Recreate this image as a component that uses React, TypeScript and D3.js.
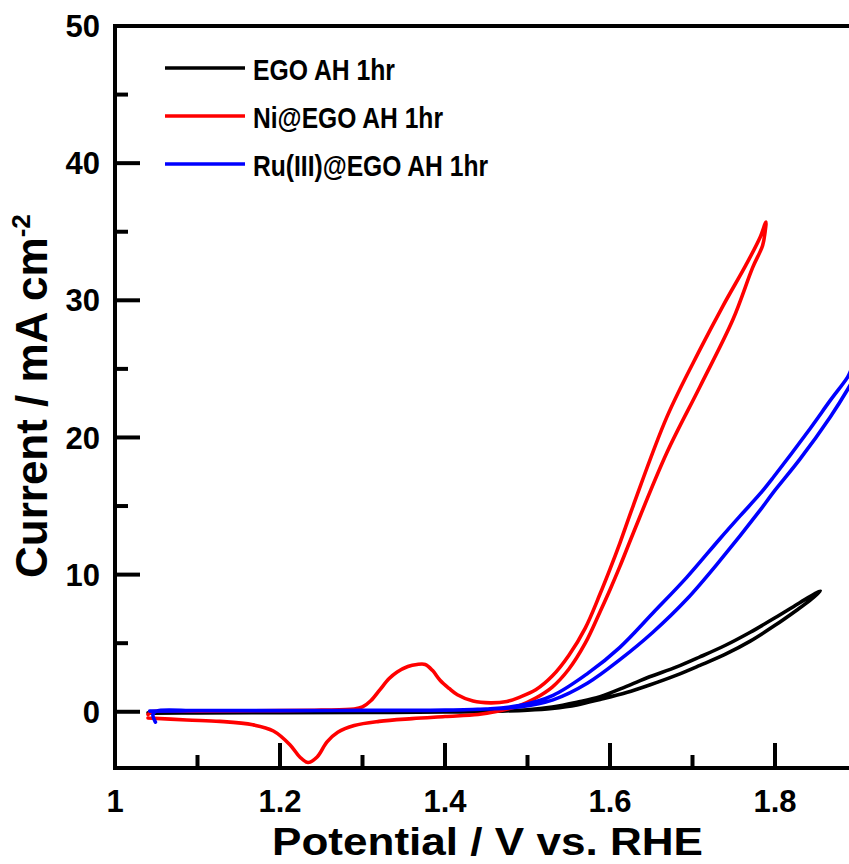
import React from "react";
import * as d3 from "d3";

// ---- Data (Potential V vs RHE, Current mA cm^-2), each a closed CV loop ----
const egoLoop: [number, number][] = [
  [1.04, -0.08], [1.1, -0.08], [1.2, -0.07], [1.3, -0.05], [1.4, -0.02], [1.45, 0.02],
  [1.5, 0.12], [1.53, 0.25], [1.56, 0.5], [1.588, 0.9], [1.62, 1.4], [1.648, 1.95],
  [1.68, 2.65], [1.709, 3.38], [1.74, 4.2], [1.77, 5.15], [1.8, 6.3], [1.825, 7.35],
  [1.842, 8.1], [1.855, 8.8],
  [1.848, 8.6], [1.83, 7.95], [1.8, 6.85], [1.77, 5.8], [1.74, 4.85], [1.709, 4.0],
  [1.68, 3.25], [1.648, 2.55], [1.62, 1.85], [1.588, 1.1], [1.56, 0.7], [1.53, 0.35],
  [1.5, 0.15], [1.45, 0.04], [1.4, -0.02], [1.3, -0.05], [1.2, -0.07], [1.1, -0.08], [1.045, -0.1],
];

const niLoop: [number, number][] = [
  [1.04, -0.2], [1.045, 0.0], [1.1, 0.05], [1.2, 0.08], [1.25, 0.12], [1.29, 0.2],
  [1.3, 0.35], [1.31, 0.8], [1.321, 1.6], [1.332, 2.4], [1.342, 2.9], [1.355, 3.3],
  [1.366, 3.45], [1.376, 3.45], [1.385, 3.0], [1.394, 2.3], [1.405, 1.7], [1.415, 1.24],
  [1.434, 0.78], [1.455, 0.65], [1.475, 0.75], [1.49, 1.05], [1.51, 1.6], [1.53, 2.6],
  [1.55, 4.1], [1.57, 6.1], [1.588, 8.6], [1.6, 10.4], [1.612, 12.3], [1.628, 15.0],
  [1.669, 21.5], [1.709, 26.4], [1.737, 29.6], [1.765, 32.6], [1.782, 34.6], [1.789, 35.7],
  [1.788, 35.0], [1.785, 34.0], [1.773, 32.4], [1.749, 28.6], [1.709, 23.7], [1.669, 18.9],
  [1.628, 13.0], [1.612, 10.6], [1.6, 8.9], [1.588, 7.3], [1.57, 5.0], [1.55, 3.1], [1.53, 1.8],
  [1.51, 1.0], [1.49, 0.45], [1.465, 0.05], [1.44, -0.2], [1.4, -0.35], [1.36, -0.5], [1.32, -0.7],
  [1.29, -1.0], [1.27, -1.5], [1.257, -2.2], [1.245, -3.3], [1.234, -3.7], [1.224, -3.3],
  [1.212, -2.4], [1.192, -1.4], [1.167, -0.95], [1.127, -0.7], [1.087, -0.6], [1.04, -0.45],
];

const ruLoop: [number, number][] = [
  [1.049, -0.75], [1.046, -0.2], [1.05, 0.05], [1.1, 0.08], [1.2, 0.08], [1.3, 0.1],
  [1.4, 0.12], [1.45, 0.2], [1.49, 0.35], [1.531, 0.87], [1.573, 2.1], [1.612, 3.8],
  [1.652, 5.8], [1.693, 8.2], [1.733, 11.0], [1.782, 14.7], [1.798, 16.0], [1.83, 18.4],
  [1.867, 21.5], [1.888, 23.5], [1.9, 24.8], [1.905, 25.6],
  [1.895, 25.2], [1.888, 24.4], [1.867, 22.7], [1.842, 20.6], [1.798, 17.1], [1.782, 15.9],
  [1.758, 14.3], [1.733, 12.6], [1.693, 9.8], [1.652, 7.2], [1.612, 4.7], [1.573, 2.8],
  [1.531, 1.2], [1.49, 0.45], [1.45, 0.2], [1.4, 0.12], [1.3, 0.1], [1.2, 0.08], [1.1, 0.07], [1.042, 0.05],
];

const seriesNames = ["EGO AH 1hr", "Ni@EGO AH 1hr", "Ru(III)@EGO AH 1hr"];
const seriesColors = ["#000000", "#ff0000", "#0000ff"];
const seriesData = [egoLoop, niLoop, ruLoop];

const xMajorTicks = [1, 1.2, 1.4, 1.6, 1.8];
const xMinorTicks = [1.1, 1.3, 1.5, 1.7];
const xTickLabels = ["1", "1.2", "1.4", "1.6", "1.8"];
const yMajorTicks = [0, 10, 20, 30, 40, 50];
const yMinorTicks = [5, 15, 25, 35, 45];
const yTickLabels = ["0", "10", "20", "30", "40", "50"];

const W = 849;
const H = 864;
const FONT = "'Liberation Sans', Arial, Helvetica, sans-serif";

export default function App() {
  const left = 115, right = 849, top = 26, bottom = 768;
  const x = d3.scaleLinear().domain([1, 1.8]).range([115, 775]);
  const y = d3.scaleLinear().domain([-4.1, 50]).range([bottom, top]);
  const line = d3
    .line<[number, number]>()
    .x((d) => x(d[0]))
    .y((d) => y(d[1]))
    .curve(d3.curveCatmullRom.alpha(0.5));

  const legendTextLen = [142, 190, 235];

  return (
    <svg
      width={W}
      height={H}
      style={{ position: "absolute", left: 0, top: 0, background: "#fff" }}
      fontFamily={FONT}
      fontWeight="bold"
    >
      <defs>
        <clipPath id="plotClip">
          <rect x={left} y={top} width={right - left} height={bottom - top} />
        </clipPath>
      </defs>
      <rect x={0} y={0} width={W} height={H} fill="#fff" />

      {/* curves */}
      <g clipPath="url(#plotClip)" fill="none" strokeWidth={3.6} strokeLinejoin="round" strokeLinecap="round">
        {seriesData.map((d, i) => (
          <path key={i} d={line(d) || ""} stroke={seriesColors[i]} />
        ))}
      </g>

      {/* axes */}
      <g stroke="#000" strokeWidth={4} fill="none">
        <line x1={left} y1={top} x2={left} y2={bottom + 2} />
        <line x1={left - 2} y1={bottom} x2={right} y2={bottom} />
        <line x1={left - 2} y1={top} x2={right} y2={top} />
        {yMajorTicks.map((t) => (
          <line key={"ym" + t} x1={left} x2={left + 25} y1={y(t)} y2={y(t)} />
        ))}
        {yMinorTicks.map((t) => (
          <line key={"yn" + t} x1={left} x2={left + 13} y1={y(t)} y2={y(t)} />
        ))}
        {xMajorTicks.map((t) => (
          <line key={"xm" + t} x1={x(t)} x2={x(t)} y1={bottom} y2={bottom - 25} />
        ))}
        {xMinorTicks.map((t) => (
          <line key={"xn" + t} x1={x(t)} x2={x(t)} y1={bottom} y2={bottom - 13} />
        ))}
      </g>

      {/* tick labels */}
      <g fontSize={31} fill="#000">
        {yMajorTicks.map((t, i) => (
          <text key={"yl" + t} x={100} y={y(t)} dy="0.36em" textAnchor="end">
            {yTickLabels[i]}
          </text>
        ))}
        {xMajorTicks.map((t, i) => (
          <text key={"xl" + t} x={x(t)} y={812} textAnchor="middle">
            {xTickLabels[i]}
          </text>
        ))}
      </g>

      {/* axis titles */}
      <text x={272} y={855} fontSize={39} textLength={431} lengthAdjust="spacingAndGlyphs">
        Potential / V vs. RHE
      </text>
      <text transform="translate(47,578) rotate(-90)" fontSize={44}>
        Current / mA cm
        <tspan fontSize={26} dy={-17}>
          -2
        </tspan>
      </text>

      {/* legend */}
      {seriesNames.map((name, i) => {
        const ly = 68 + i * 48;
        return (
          <g key={name}>
            <line x1={165} x2={245} y1={ly} y2={ly} stroke={seriesColors[i]} strokeWidth={3.6} />
            <text
              x={253}
              y={ly + 12}
              fontSize={30}
              textLength={legendTextLen[i]}
              lengthAdjust="spacingAndGlyphs"
            >
              {name}
            </text>
          </g>
        );
      })}
    </svg>
  );
}
